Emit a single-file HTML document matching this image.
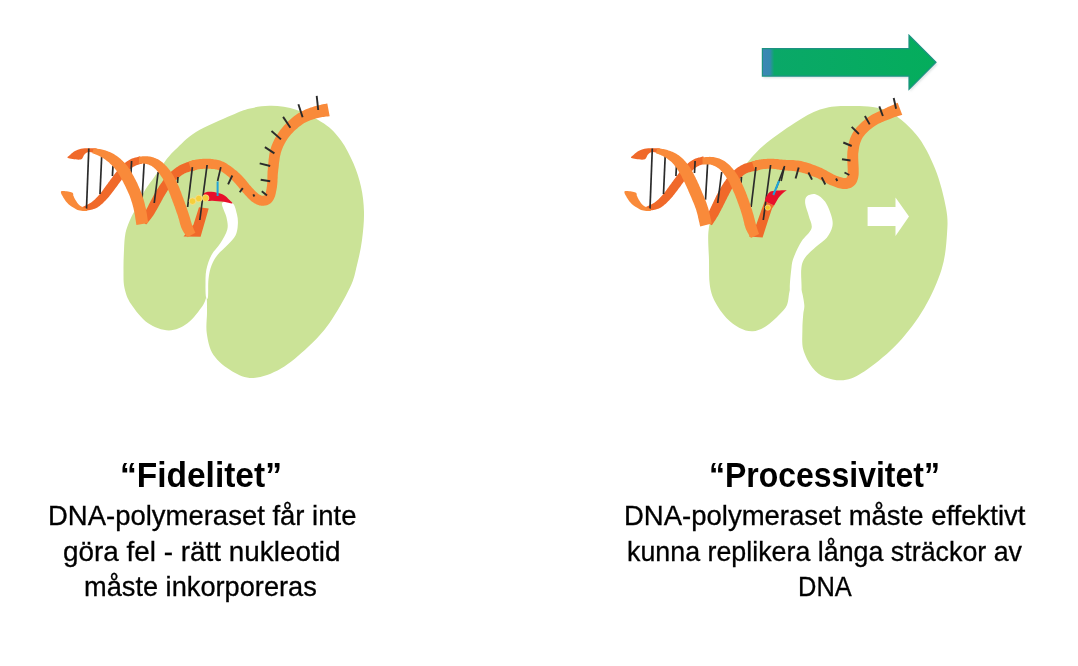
<!DOCTYPE html>
<html><head><meta charset="utf-8">
<style>
html,body{margin:0;padding:0;background:#fff;}
body{width:1078px;height:666px;position:relative;overflow:hidden;font-family:"Liberation Sans",sans-serif;color:#000;}
svg{position:absolute;left:0;top:0;}
.t{position:absolute;white-space:nowrap;line-height:60px;transform-origin:0 0;}
.b{font-weight:bold;font-size:35px;}
.n{font-size:27.4px;-webkit-text-stroke:0.3px #000;}
</style></head><body>
<svg width="1078" height="666" viewBox="0 0 1078 666">
<path fill="#cbe397" d="M271.5,105.8 C279.3,106.0 288.1,107.0 296.8,110.0 C305.6,113.0 316.6,118.5 324.0,123.6 C331.4,128.7 336.1,133.8 341.0,140.5 C345.9,147.2 350.2,155.9 353.5,163.6 C356.8,171.3 359.2,178.6 361.0,186.7 C362.8,194.8 363.8,203.1 364.0,212.0 C364.2,220.9 363.2,231.2 362.0,240.0 C360.8,248.8 359.0,257.1 357.0,265.0 C355.0,272.9 354.6,278.0 350.0,287.6 C345.4,297.2 336.7,312.8 329.7,322.7 C322.7,332.6 316.1,339.4 308.0,347.0 C299.9,354.6 290.0,363.4 281.0,368.6 C272.0,373.8 262.1,377.5 254.0,378.0 C245.9,378.5 239.2,375.2 232.4,371.4 C225.7,367.6 217.8,361.3 213.5,355.0 C209.2,348.7 207.9,340.7 206.8,333.5 C205.7,326.3 207.1,317.9 207.0,312.0 C206.9,306.1 207.2,299.0 206.5,298.0 C205.8,297.0 205.6,301.8 202.5,306.0 C199.4,310.2 193.4,318.9 187.8,323.0 C182.2,327.1 175.6,330.4 168.9,330.4 C162.2,330.4 154.1,327.4 147.8,323.0 C141.5,318.6 134.9,309.8 131.0,304.0 C127.1,298.2 125.8,293.7 124.5,288.0 C123.2,282.3 123.6,276.3 123.5,270.0 C123.4,263.7 123.7,256.2 124.0,250.0 C124.3,243.8 124.5,238.0 125.5,233.0 C126.5,228.0 128.3,224.0 130.0,220.0 C131.7,216.0 133.1,213.8 135.5,209.0 C137.9,204.2 141.2,196.5 144.5,191.0 C147.8,185.5 151.6,180.9 155.0,176.0 C158.4,171.1 161.6,165.9 165.0,161.5 C168.4,157.1 170.3,154.5 175.5,149.6 C180.7,144.7 186.7,137.7 196.0,132.0 C205.3,126.3 222.6,119.2 231.6,115.3 C240.6,111.4 243.3,110.1 250.0,108.5 C256.6,106.9 263.7,105.5 271.5,105.8 Z"/>
<path fill="#fff" d="M222.0,203.0 C223.0,200.6 230.0,201.1 232.5,203.0 C235.0,204.9 236.1,210.8 237.0,214.5 C237.9,218.2 238.1,221.5 237.8,225.0 C237.6,228.5 237.1,232.2 235.5,235.5 C233.9,238.8 231.0,241.2 228.0,244.5 C225.0,247.8 220.2,251.5 217.5,255.0 C214.8,258.5 213.0,261.6 211.5,265.6 C210.0,269.6 209.1,273.8 208.5,279.0 C207.9,284.2 208.4,294.0 208.0,297.0 C207.6,300.0 206.4,299.0 206.0,297.0 C205.6,295.0 205.4,289.5 205.5,285.0 C205.6,280.5 205.3,275.0 206.3,270.0 C207.3,265.0 209.1,259.5 211.5,255.0 C213.9,250.5 217.9,247.2 220.5,243.0 C223.1,238.8 226.3,233.8 227.3,229.5 C228.3,225.2 227.4,221.9 226.5,217.5 C225.6,213.1 221.0,205.4 222.0,203.0 Z"/>
<path fill="#cbe397" d="M846.0,105.9 C856.8,106.0 873.4,105.3 885.0,110.0 C896.6,114.7 907.3,124.2 915.7,134.0 C924.1,143.8 930.2,156.7 935.2,169.0 C940.2,181.3 944.0,197.2 946.0,208.0 C948.0,218.8 947.7,223.8 947.0,234.0 C946.3,244.2 945.5,256.7 941.7,269.0 C937.9,281.3 931.5,295.7 924.3,308.0 C917.1,320.3 907.7,332.6 898.3,342.8 C888.9,353.0 876.5,362.8 867.8,369.0 C859.1,375.2 853.0,378.4 846.0,379.8 C839.0,381.2 831.1,379.4 825.5,377.4 C819.9,375.3 816.0,372.2 812.3,367.5 C808.6,362.8 804.9,355.6 803.2,349.3 C801.6,343.0 802.4,335.3 802.4,329.5 C802.4,323.7 802.9,318.8 803.2,314.7 C803.5,310.6 804.6,309.1 804.3,305.0 C804.0,300.9 802.7,293.8 801.3,290.0 C799.9,286.2 797.9,282.0 796.0,282.0 C794.1,282.0 791.5,286.2 790.0,290.0 C788.5,293.8 788.8,300.9 787.0,305.0 C785.2,309.1 782.7,311.2 779.2,314.7 C775.7,318.2 770.4,323.4 766.0,326.2 C761.6,328.9 757.2,330.9 752.8,331.2 C748.4,331.5 744.0,330.1 739.6,327.9 C735.2,325.7 730.5,322.4 726.4,318.0 C722.3,313.6 717.7,307.0 714.9,301.5 C712.1,296.0 710.8,291.9 709.8,285.0 C708.8,278.1 709.2,268.8 709.0,260.0 C708.8,251.2 707.7,240.0 708.4,232.0 C709.1,224.0 710.9,217.5 713.0,212.0 C715.1,206.5 716.2,205.9 721.0,198.8 C725.8,191.7 735.0,178.2 742.0,169.4 C749.0,160.6 754.2,153.7 763.0,146.0 C771.8,138.3 785.1,129.1 794.6,123.0 C804.1,116.9 811.4,112.3 820.0,109.5 C828.6,106.7 835.2,105.8 846.0,105.9 Z"/>
<path fill="#fff" d="M807.0,196.2 C808.8,194.7 813.0,193.5 816.0,194.4 C819.0,195.3 822.4,198.0 825.0,201.6 C827.6,205.2 830.2,211.8 831.4,216.0 C832.6,220.2 833.1,223.2 832.3,226.8 C831.5,230.4 829.5,234.4 826.8,237.7 C824.1,241.0 819.6,243.4 816.0,246.7 C812.4,250.0 807.7,253.8 805.2,257.5 C802.8,261.2 801.9,263.2 801.3,269.0 C800.6,274.8 802.2,287.5 801.3,292.0 C800.4,296.5 797.9,296.0 796.0,296.0 C794.1,296.0 790.8,296.8 790.0,292.0 C789.2,287.2 790.8,273.6 791.5,267.5 C792.2,261.4 792.7,260.1 794.4,255.7 C796.1,251.3 798.8,245.8 801.6,241.3 C804.5,236.8 810.3,232.8 811.5,228.6 C812.7,224.4 809.8,220.2 808.8,216.0 C807.8,211.8 805.5,206.7 805.2,203.4 C804.9,200.1 805.2,197.7 807.0,196.2 Z"/>
<path fill="#fff" d="M867.6,207 L895.5,207 L895.5,197.6 L909,216.5 L895.5,236 L895.5,226 L867.6,226 Z"/>
<defs><linearGradient id="ga" x1="762" x2="936" y1="0" y2="0" gradientUnits="userSpaceOnUse">
<stop offset="0" stop-color="#3d86b4"/><stop offset="0.045" stop-color="#3589b0"/><stop offset="0.07" stop-color="#0aa868"/><stop offset="1" stop-color="#04ad5c"/></linearGradient>
<filter id="sh" x="-10%" y="-20%" width="130%" height="160%"><feGaussianBlur stdDeviation="1.2"/></filter></defs>
<path fill="#9aa" opacity="0.35" filter="url(#sh)" d="M763.4,50.6 L910,50.6 L910,37.3 L937.5,64.2 L910,91.4 L910,78.1 L763.4,78.1 Z"/>
<path fill="url(#ga)" stroke="#1d9282" stroke-width="1.2" d="M762.4,48.6 L909,48.6 L909,35.3 L936,62.2 L909,89.4 L909,76.1 L762.4,76.1 Z"/>
<path fill="#f0692a" d="M68.0,158.0 C66.3,157.2 69.3,155.7 70.5,154.5 C71.7,153.3 73.2,151.9 75.0,151.0 C76.8,150.1 78.7,149.3 81.0,148.8 C83.3,148.3 86.3,148.2 89.0,148.2 C91.7,148.2 95.7,147.9 97.0,148.8 C98.3,149.7 98.3,153.0 97.0,153.5 C95.7,154.0 91.1,151.8 89.0,152.0 C86.9,152.2 85.9,153.2 84.5,154.5 C83.1,155.8 83.2,158.9 80.5,159.5 C77.8,160.1 69.7,158.8 68.0,158.0 Z"/>
<path fill="#f0692a" d="M83.6,210.9 L84.2,210.8 L84.9,210.7 L85.7,210.6 L86.7,210.5 L87.7,210.3 L88.8,210.2 L90.0,210.0 L91.2,209.7 L92.4,209.5 L93.6,209.1 L94.8,208.7 L95.9,208.2 L96.9,207.7 L97.8,207.2 L98.7,206.6 L99.6,205.9 L100.4,205.3 L101.2,204.6 L102.0,203.9 L102.8,203.2 L103.5,202.5 L104.2,201.8 L104.9,201.1 L105.6,200.4 L106.4,199.6 L107.1,198.8 L107.8,198.0 L108.5,197.2 L109.2,196.4 L109.8,195.5 L110.5,194.7 L111.1,193.9 L111.8,193.1 L112.4,192.3 L113.0,191.5 L113.6,190.7 L114.2,189.9 L114.8,189.1 L115.4,188.3 L116.0,187.5 L116.6,186.7 L117.2,185.9 L117.8,185.1 L118.3,184.3 L118.9,183.5 L119.5,182.7 L120.0,182.0 L120.6,181.2 L121.2,180.4 L121.8,179.6 L122.3,178.8 L122.9,178.0 L123.4,177.2 L124.0,176.4 L124.5,175.7 L125.0,175.0 L125.5,174.3 L126.0,173.6 L126.5,173.0 L127.1,172.4 L127.6,171.8 L128.2,171.2 L128.8,170.7 L129.3,170.1 L129.9,169.6 L130.5,169.1 L131.1,168.6 L131.7,168.1 L132.2,167.6 L132.8,167.2 L133.4,166.8 L133.9,166.5 L134.5,166.2 L135.1,165.9 L135.8,165.6 L136.5,165.3 L137.3,165.1 L138.1,164.8 L138.8,164.6 L139.6,164.3 L140.3,164.1 L141.0,163.9 L141.6,163.7 L142.1,163.6 L139.9,156.4 L139.5,156.5 L139.0,156.6 L138.4,156.8 L137.7,157.0 L136.8,157.2 L135.9,157.4 L135.0,157.6 L134.0,157.9 L133.0,158.2 L132.0,158.6 L131.0,159.0 L130.1,159.5 L129.2,160.0 L128.4,160.5 L127.6,161.0 L126.8,161.5 L126.0,162.1 L125.2,162.7 L124.5,163.3 L123.8,163.9 L123.0,164.6 L122.3,165.2 L121.6,165.9 L120.9,166.6 L120.2,167.3 L119.5,168.1 L118.8,168.8 L118.2,169.6 L117.5,170.4 L116.9,171.2 L116.3,172.0 L115.7,172.8 L115.1,173.5 L114.5,174.3 L114.0,175.1 L113.4,175.8 L112.8,176.6 L112.2,177.4 L111.6,178.2 L111.0,179.0 L110.4,179.8 L109.9,180.6 L109.3,181.4 L108.7,182.1 L108.1,182.9 L107.6,183.7 L107.0,184.5 L106.4,185.3 L105.8,186.1 L105.2,186.9 L104.6,187.8 L104.0,188.6 L103.4,189.4 L102.8,190.2 L102.3,191.0 L101.7,191.8 L101.1,192.5 L100.5,193.2 L100.0,193.9 L99.4,194.6 L98.8,195.3 L98.1,196.0 L97.5,196.7 L96.9,197.3 L96.3,198.0 L95.7,198.6 L95.1,199.2 L94.5,199.7 L93.9,200.3 L93.3,200.8 L92.7,201.3 L92.1,201.8 L91.5,202.2 L90.8,202.7 L89.9,203.2 L89.0,203.7 L88.1,204.3 L87.1,204.8 L86.1,205.2 L85.2,205.7 L84.4,206.1 L83.6,206.5 L82.9,206.8 L82.4,207.1Z"/>
<path fill="#f0692a" d="M146.2,224.4 L146.5,224.0 L147.0,223.5 L147.5,222.9 L148.0,222.2 L148.6,221.4 L149.3,220.7 L150.0,219.8 L150.7,218.9 L151.4,218.1 L152.0,217.2 L152.7,216.3 L153.3,215.4 L153.9,214.5 L154.4,213.7 L154.9,212.8 L155.4,212.0 L155.9,211.1 L156.4,210.2 L156.9,209.4 L157.4,208.6 L157.8,207.7 L158.3,206.9 L158.7,206.1 L159.2,205.3 L159.6,204.4 L160.1,203.6 L160.6,202.7 L161.0,201.9 L161.5,201.0 L161.9,200.2 L162.4,199.4 L162.8,198.6 L163.2,197.8 L163.7,197.0 L164.1,196.2 L164.6,195.4 L165.0,194.7 L165.5,193.9 L166.0,193.2 L166.4,192.4 L166.9,191.7 L167.3,191.0 L167.8,190.3 L168.3,189.6 L168.8,188.9 L169.2,188.3 L169.7,187.6 L170.3,186.9 L170.8,186.2 L171.4,185.5 L171.9,184.8 L172.5,184.1 L173.1,183.4 L173.7,182.7 L174.2,182.0 L174.8,181.4 L175.4,180.8 L176.0,180.2 L176.6,179.6 L177.2,179.0 L177.8,178.4 L178.5,177.9 L179.1,177.3 L179.8,176.8 L180.4,176.3 L181.0,175.8 L181.7,175.3 L182.3,174.8 L183.0,174.4 L183.7,174.0 L184.4,173.6 L185.1,173.3 L185.8,172.9 L186.7,172.6 L187.7,172.2 L188.8,171.9 L189.9,171.6 L191.0,171.3 L192.1,171.0 L193.1,170.7 L194.1,170.4 L195.0,170.2 L195.9,170.0 L196.5,169.8 L193.5,160.2 L193.0,160.4 L192.3,160.6 L191.4,160.9 L190.4,161.2 L189.3,161.6 L188.2,161.9 L186.9,162.3 L185.7,162.8 L184.5,163.2 L183.2,163.7 L182.0,164.2 L180.9,164.7 L179.9,165.3 L178.9,165.8 L178.0,166.4 L177.1,167.0 L176.2,167.6 L175.4,168.2 L174.6,168.8 L173.8,169.4 L173.0,170.0 L172.3,170.7 L171.5,171.3 L170.8,172.0 L170.0,172.7 L169.3,173.4 L168.6,174.2 L167.8,174.9 L167.1,175.7 L166.5,176.5 L165.8,177.3 L165.2,178.0 L164.5,178.8 L163.9,179.6 L163.3,180.3 L162.7,181.1 L162.1,181.9 L161.6,182.7 L161.0,183.4 L160.5,184.2 L159.9,185.0 L159.4,185.8 L158.9,186.6 L158.4,187.4 L157.9,188.2 L157.4,188.9 L156.9,189.7 L156.4,190.6 L155.9,191.4 L155.4,192.2 L154.9,193.1 L154.5,194.0 L154.0,194.8 L153.5,195.7 L153.1,196.5 L152.6,197.4 L152.2,198.2 L151.7,199.1 L151.3,199.9 L150.8,200.7 L150.4,201.6 L149.9,202.5 L149.5,203.3 L149.0,204.2 L148.6,205.0 L148.2,205.9 L147.8,206.7 L147.4,207.5 L147.0,208.3 L146.5,209.1 L146.1,209.9 L145.7,210.6 L145.2,211.3 L144.8,212.2 L144.2,213.0 L143.7,213.9 L143.1,214.7 L142.5,215.6 L141.9,216.4 L141.4,217.2 L140.9,217.9 L140.5,218.6 L140.1,219.2 L139.8,219.6Z"/>
<path fill="#f98a3a" d="M191.5,171.3 L191.9,171.2 L192.3,171.0 L192.8,170.8 L193.3,170.7 L193.8,170.5 L194.4,170.3 L194.9,170.1 L195.5,170.0 L196.1,169.8 L196.6,169.7 L197.2,169.5 L197.8,169.4 L198.5,169.3 L199.3,169.2 L200.1,169.1 L200.9,169.0 L201.8,168.9 L202.6,168.9 L203.5,168.8 L204.4,168.7 L205.3,168.7 L206.1,168.7 L207.0,168.7 L207.8,168.7 L208.7,168.7 L209.6,168.8 L210.5,168.8 L211.5,168.9 L212.4,168.9 L213.3,169.0 L214.2,169.1 L215.1,169.3 L215.9,169.4 L216.7,169.6 L217.4,169.8 L218.1,170.0 L218.8,170.2 L219.5,170.5 L220.1,170.8 L220.7,171.1 L221.4,171.5 L222.0,171.8 L222.6,172.3 L223.3,172.7 L224.0,173.2 L224.7,173.7 L225.4,174.2 L226.1,174.8 L226.9,175.4 L227.6,176.0 L228.3,176.6 L229.1,177.2 L229.8,177.9 L230.5,178.6 L231.3,179.3 L232.0,180.0 L232.8,180.8 L233.5,181.5 L234.2,182.2 L234.9,183.0 L235.6,183.7 L236.2,184.4 L236.9,185.2 L237.5,186.0 L238.2,186.8 L238.9,187.7 L239.6,188.5 L240.3,189.4 L241.0,190.3 L241.8,191.1 L242.5,192.0 L243.3,192.9 L244.0,193.6 L244.7,194.4 L245.4,195.2 L246.2,196.0 L246.9,196.8 L247.7,197.7 L248.5,198.5 L249.3,199.2 L250.1,200.0 L250.9,200.7 L251.7,201.4 L252.6,202.1 L253.4,202.6 L254.2,203.2 L255.1,203.6 L255.9,204.1 L256.8,204.5 L257.6,204.8 L258.5,205.1 L259.4,205.4 L260.3,205.6 L261.3,205.7 L262.2,205.8 L263.1,205.8 L264.0,205.7 L264.9,205.6 L265.8,205.5 L266.7,205.2 L267.6,204.9 L268.5,204.5 L269.4,204.0 L270.3,203.4 L271.1,202.7 L271.9,201.9 L272.6,201.1 L273.3,200.1 L273.8,199.1 L274.3,198.0 L274.7,197.0 L275.1,195.9 L275.4,194.8 L275.7,193.7 L275.9,192.6 L276.1,191.4 L276.4,190.3 L276.6,189.1 L276.8,187.9 L277.0,186.7 L277.1,185.4 L277.3,184.0 L277.4,182.7 L277.5,181.4 L277.5,180.0 L277.6,178.7 L277.7,177.4 L277.7,176.0 L277.8,174.7 L277.9,173.3 L278.1,171.9 L278.2,170.5 L278.4,169.0 L278.6,167.4 L278.8,165.7 L278.9,164.0 L279.1,162.4 L279.4,160.7 L279.6,159.1 L279.8,157.5 L280.1,155.9 L280.5,154.4 L280.8,153.0 L281.2,151.7 L281.7,150.3 L282.2,149.0 L282.8,147.6 L283.3,146.3 L284.0,145.0 L284.6,143.7 L285.3,142.4 L286.0,141.2 L286.8,139.9 L287.6,138.7 L288.5,137.5 L289.3,136.4 L290.3,135.2 L291.3,134.1 L292.4,132.9 L293.5,131.7 L294.7,130.6 L295.9,129.5 L297.2,128.4 L298.4,127.3 L299.7,126.3 L300.9,125.4 L302.1,124.5 L303.2,123.8 L304.3,123.1 L305.4,122.5 L306.4,121.9 L307.5,121.4 L308.6,120.9 L309.8,120.5 L310.9,120.1 L312.1,119.7 L313.2,119.3 L314.4,118.9 L315.6,118.6 L316.8,118.2 L317.9,117.9 L319.0,117.7 L320.1,117.5 L321.3,117.3 L322.5,117.1 L323.7,116.9 L324.9,116.8 L326.0,116.6 L327.1,116.5 L328.1,116.4 L329.0,116.3 L329.7,116.2 L327.3,103.4 L326.8,103.5 L326.0,103.7 L325.1,103.9 L324.1,104.1 L322.9,104.3 L321.6,104.6 L320.3,104.9 L318.9,105.2 L317.5,105.5 L316.0,105.9 L314.6,106.3 L313.2,106.8 L312.0,107.2 L310.7,107.6 L309.5,108.1 L308.2,108.5 L306.8,109.0 L305.4,109.6 L304.0,110.2 L302.6,110.9 L301.1,111.6 L299.7,112.4 L298.2,113.3 L296.8,114.2 L295.4,115.3 L294.0,116.3 L292.5,117.5 L291.1,118.7 L289.7,119.9 L288.3,121.2 L286.9,122.6 L285.6,123.9 L284.3,125.3 L283.0,126.7 L281.8,128.2 L280.7,129.6 L279.6,131.1 L278.6,132.5 L277.6,134.0 L276.6,135.5 L275.7,137.0 L274.9,138.6 L274.1,140.1 L273.3,141.7 L272.6,143.3 L271.9,145.0 L271.3,146.6 L270.8,148.3 L270.2,150.1 L269.8,152.0 L269.4,153.9 L269.1,155.7 L268.9,157.6 L268.6,159.4 L268.5,161.2 L268.3,163.0 L268.2,164.7 L268.0,166.4 L267.9,167.9 L267.8,169.5 L267.6,171.0 L267.5,172.6 L267.5,174.1 L267.4,175.6 L267.4,177.0 L267.4,178.4 L267.4,179.7 L267.3,180.9 L267.3,182.1 L267.2,183.2 L267.2,184.3 L267.0,185.3 L266.9,186.4 L266.7,187.5 L266.6,188.5 L266.4,189.5 L266.2,190.5 L266.0,191.4 L265.8,192.2 L265.5,193.0 L265.3,193.6 L265.1,194.2 L264.9,194.6 L264.7,194.9 L264.6,195.1 L264.5,195.3 L264.4,195.4 L264.3,195.4 L264.2,195.5 L264.1,195.6 L263.9,195.6 L263.8,195.7 L263.6,195.7 L263.4,195.8 L263.1,195.8 L262.9,195.8 L262.6,195.8 L262.4,195.8 L262.2,195.7 L261.9,195.7 L261.5,195.6 L261.2,195.5 L260.8,195.3 L260.3,195.1 L259.9,194.9 L259.4,194.6 L258.9,194.3 L258.4,193.9 L257.9,193.6 L257.4,193.1 L256.8,192.6 L256.2,192.1 L255.6,191.4 L254.9,190.7 L254.2,190.0 L253.6,189.3 L252.8,188.5 L252.1,187.7 L251.4,186.9 L250.7,186.1 L250.0,185.4 L249.4,184.7 L248.8,183.9 L248.1,183.1 L247.4,182.2 L246.7,181.3 L246.0,180.5 L245.3,179.6 L244.5,178.7 L243.7,177.8 L242.9,176.9 L242.1,176.0 L241.3,175.2 L240.5,174.4 L239.6,173.6 L238.8,172.9 L237.9,172.1 L237.1,171.3 L236.2,170.6 L235.3,169.9 L234.4,169.2 L233.6,168.5 L232.7,167.8 L231.9,167.2 L231.0,166.6 L230.3,166.0 L229.5,165.5 L228.6,164.9 L227.8,164.4 L227.0,163.8 L226.1,163.3 L225.2,162.8 L224.3,162.3 L223.3,161.8 L222.3,161.4 L221.3,161.0 L220.2,160.6 L219.1,160.3 L218.0,160.0 L216.9,159.8 L215.7,159.6 L214.6,159.4 L213.5,159.2 L212.4,159.1 L211.3,158.9 L210.3,158.8 L209.2,158.8 L208.2,158.7 L207.1,158.7 L206.0,158.7 L205.0,158.7 L203.9,158.7 L202.8,158.8 L201.8,158.9 L200.8,159.0 L199.8,159.1 L198.8,159.2 L197.9,159.3 L197.1,159.4 L196.2,159.6 L195.3,159.7 L194.4,159.9 L193.6,160.1 L192.7,160.3 L192.0,160.6 L191.3,160.8 L190.6,161.0 L190.0,161.2 L189.5,161.4 L189.1,161.5 L188.8,161.6 L188.5,161.7Z"/>
<path fill="#f0692a" d="M183.5,236.5 L193.5,224.6 L199.0,207.3 L208.7,208.4 L200.6,236.8 Z"/>
<line x1="88.8" y1="148.5" x2="86.5" y2="208.6" stroke="#2b2b2b" stroke-width="1.7"/>
<line x1="101.7" y1="155.8" x2="100.0" y2="194.0" stroke="#2b2b2b" stroke-width="1.7"/>
<line x1="113.0" y1="165.9" x2="112.4" y2="176.0" stroke="#2b2b2b" stroke-width="1.7"/>
<line x1="131.6" y1="161.0" x2="131.0" y2="173.0" stroke="#2b2b2b" stroke-width="1.7"/>
<line x1="144.3" y1="160.5" x2="142.0" y2="199.6" stroke="#2b2b2b" stroke-width="1.7"/>
<line x1="158.2" y1="172.0" x2="154.2" y2="203.0" stroke="#2b2b2b" stroke-width="1.7"/>
<line x1="178.0" y1="177.0" x2="177.5" y2="183.0" stroke="#2b2b2b" stroke-width="1.7"/>
<line x1="192.4" y1="167.1" x2="187.6" y2="207.0" stroke="#2b2b2b" stroke-width="1.7"/>
<line x1="207.1" y1="165.0" x2="199.8" y2="220.0" stroke="#2b2b2b" stroke-width="1.7"/>
<line x1="220.8" y1="167.1" x2="217.6" y2="181.0" stroke="#2b2b2b" stroke-width="1.7"/>
<path fill="#f98a3a" d="M61.2,191.3 C62.5,190.3 69.9,191.6 71.9,192.4 C74.0,193.2 72.9,194.8 73.5,196.0 C74.1,197.2 74.2,198.1 75.3,199.7 C76.3,201.3 78.0,203.9 79.8,205.4 C81.6,206.9 84.8,207.6 86.0,208.5 C87.2,209.4 88.0,210.7 87.0,211.0 C86.0,211.3 82.0,210.9 80.0,210.5 C78.0,210.1 77.2,209.8 75.3,208.7 C73.4,207.6 70.4,205.9 68.5,204.2 C66.6,202.5 65.2,200.8 64.0,198.6 C62.8,196.4 59.9,192.3 61.2,191.3 Z"/>
<path fill="#f98a3a" d="M138.9,163.5 L139.5,163.5 L140.1,163.6 L140.9,163.6 L141.7,163.6 L142.5,163.6 L143.4,163.7 L144.3,163.7 L145.2,163.8 L146.0,163.9 L146.8,164.0 L147.4,164.2 L148.0,164.4 L148.6,164.6 L149.3,164.9 L149.9,165.2 L150.5,165.5 L151.1,165.8 L151.7,166.1 L152.3,166.5 L152.8,166.9 L153.4,167.3 L153.9,167.8 L154.5,168.2 L155.0,168.7 L155.6,169.2 L156.1,169.8 L156.7,170.4 L157.2,171.0 L157.8,171.7 L158.4,172.4 L158.9,173.1 L159.5,173.8 L160.1,174.6 L160.6,175.4 L161.1,176.2 L161.7,177.0 L162.2,177.8 L162.7,178.6 L163.2,179.5 L163.7,180.4 L164.1,181.3 L164.6,182.2 L165.1,183.2 L165.6,184.2 L166.1,185.2 L166.6,186.2 L167.0,187.3 L167.5,188.3 L168.0,189.3 L168.4,190.4 L168.9,191.5 L169.3,192.6 L169.7,193.7 L170.2,194.8 L170.6,196.0 L171.1,197.2 L171.5,198.4 L172.0,199.6 L172.4,200.7 L172.8,201.9 L173.3,203.1 L173.7,204.3 L174.1,205.4 L174.6,206.6 L175.0,207.8 L175.4,208.9 L175.8,210.1 L176.2,211.2 L176.6,212.4 L177.0,213.5 L177.4,214.6 L177.8,215.7 L178.1,216.8 L178.4,217.9 L178.8,219.0 L179.1,220.1 L179.4,221.2 L179.7,222.4 L180.0,223.5 L180.3,224.7 L180.7,225.8 L181.0,226.9 L181.5,228.0 L181.9,229.1 L182.4,230.1 L182.9,231.1 L183.5,232.0 L184.1,232.9 L184.7,233.7 L185.2,234.4 L185.8,235.1 L186.3,235.7 L186.7,236.2 L187.1,236.7 L187.4,237.0 L187.6,237.3 L195.4,232.7 L195.2,232.3 L194.9,231.7 L194.6,231.1 L194.4,230.5 L194.1,229.9 L193.8,229.2 L193.5,228.5 L193.2,227.8 L192.9,227.1 L192.6,226.3 L192.3,225.6 L192.1,224.9 L191.8,224.2 L191.6,223.4 L191.3,222.5 L191.0,221.5 L190.7,220.4 L190.4,219.4 L190.1,218.2 L189.7,217.1 L189.4,215.9 L189.0,214.7 L188.6,213.5 L188.2,212.3 L187.8,211.1 L187.4,209.9 L187.0,208.8 L186.6,207.6 L186.2,206.4 L185.8,205.2 L185.3,204.0 L184.9,202.8 L184.5,201.6 L184.0,200.4 L183.6,199.2 L183.2,198.1 L182.7,196.9 L182.3,195.7 L181.8,194.5 L181.4,193.3 L181.0,192.1 L180.5,190.9 L180.0,189.7 L179.6,188.5 L179.1,187.3 L178.6,186.1 L178.0,184.9 L177.5,183.7 L177.0,182.6 L176.4,181.5 L175.9,180.4 L175.3,179.3 L174.8,178.2 L174.2,177.2 L173.6,176.1 L173.0,175.0 L172.3,174.0 L171.7,173.0 L171.0,172.0 L170.3,171.0 L169.6,170.1 L168.9,169.2 L168.2,168.3 L167.5,167.4 L166.7,166.5 L165.9,165.7 L165.1,164.9 L164.3,164.1 L163.5,163.4 L162.7,162.6 L161.8,161.9 L161.0,161.3 L160.1,160.7 L159.2,160.1 L158.3,159.6 L157.4,159.1 L156.5,158.7 L155.6,158.3 L154.6,157.9 L153.7,157.6 L152.8,157.3 L151.9,157.1 L150.9,156.8 L150.0,156.6 L148.9,156.4 L147.8,156.3 L146.7,156.2 L145.6,156.2 L144.5,156.2 L143.5,156.3 L142.5,156.3 L141.6,156.4 L140.8,156.4 L140.1,156.5 L139.5,156.5 L139.1,156.5Z"/>
<path fill="#f98a3a" d="M92.4,153.2 L92.8,153.4 L93.4,153.6 L94.1,153.9 L94.8,154.1 L95.6,154.4 L96.4,154.7 L97.2,155.1 L98.0,155.4 L98.8,155.8 L99.6,156.2 L100.4,156.6 L101.1,157.0 L101.8,157.4 L102.5,157.8 L103.3,158.3 L104.0,158.8 L104.8,159.3 L105.5,159.8 L106.3,160.4 L107.0,160.9 L107.7,161.5 L108.4,162.0 L109.1,162.6 L109.7,163.2 L110.4,163.9 L111.1,164.6 L111.8,165.3 L112.5,166.0 L113.2,166.8 L113.9,167.5 L114.5,168.3 L115.2,169.1 L115.9,170.0 L116.5,170.8 L117.1,171.6 L117.7,172.5 L118.3,173.3 L118.8,174.2 L119.4,175.1 L119.9,176.0 L120.5,177.0 L121.0,178.0 L121.6,179.0 L122.1,180.0 L122.6,181.1 L123.2,182.1 L123.7,183.2 L124.3,184.2 L124.8,185.3 L125.3,186.3 L125.8,187.3 L126.3,188.4 L126.8,189.4 L127.3,190.4 L127.7,191.4 L128.2,192.5 L128.6,193.5 L129.1,194.5 L129.5,195.6 L129.9,196.6 L130.3,197.7 L130.7,198.7 L131.0,199.8 L131.4,200.9 L131.7,202.0 L132.1,203.1 L132.4,204.2 L132.7,205.3 L133.0,206.4 L133.3,207.5 L133.6,208.7 L133.8,209.8 L134.1,211.0 L134.4,212.3 L134.6,213.7 L134.9,215.1 L135.1,216.6 L135.3,218.0 L135.5,219.5 L135.8,220.8 L135.9,222.1 L136.1,223.2 L136.3,224.2 L136.4,224.9 L148.2,223.1 L148.1,222.3 L148.0,221.4 L147.8,220.3 L147.6,219.0 L147.4,217.7 L147.2,216.2 L147.0,214.7 L146.7,213.1 L146.4,211.6 L146.1,210.1 L145.9,208.6 L145.6,207.2 L145.2,205.9 L144.9,204.6 L144.6,203.3 L144.3,202.1 L143.9,200.8 L143.6,199.6 L143.2,198.4 L142.8,197.2 L142.4,196.0 L142.0,194.8 L141.6,193.6 L141.1,192.4 L140.7,191.2 L140.2,190.0 L139.7,188.8 L139.2,187.7 L138.7,186.5 L138.2,185.4 L137.7,184.3 L137.2,183.1 L136.6,182.0 L136.1,180.9 L135.5,179.8 L134.9,178.8 L134.4,177.7 L133.8,176.6 L133.2,175.5 L132.6,174.4 L132.0,173.3 L131.3,172.1 L130.7,171.0 L130.0,169.9 L129.3,168.8 L128.5,167.7 L127.7,166.6 L126.9,165.5 L126.1,164.5 L125.2,163.6 L124.3,162.6 L123.4,161.7 L122.5,160.8 L121.6,159.9 L120.7,159.1 L119.7,158.3 L118.8,157.5 L117.8,156.7 L116.9,156.0 L115.9,155.4 L114.9,154.7 L113.8,154.1 L112.8,153.5 L111.8,153.0 L110.8,152.5 L109.8,152.1 L108.7,151.7 L107.8,151.3 L106.8,151.0 L105.8,150.6 L104.9,150.3 L103.9,150.0 L102.9,149.8 L101.9,149.5 L100.9,149.3 L99.8,149.1 L98.8,149.0 L97.8,148.8 L96.9,148.7 L96.1,148.6 L95.3,148.6 L94.6,148.5 L94.1,148.4 L93.6,148.4Z"/>
<line x1="316.7" y1="95.9" x2="318.2" y2="110.0" stroke="#2b2b2b" stroke-width="1.9"/>
<line x1="298.4" y1="104.3" x2="302.6" y2="117.3" stroke="#2b2b2b" stroke-width="1.9"/>
<line x1="283.1" y1="116.9" x2="290.4" y2="127.8" stroke="#2b2b2b" stroke-width="1.9"/>
<line x1="271.5" y1="131.0" x2="281.0" y2="139.4" stroke="#2b2b2b" stroke-width="1.9"/>
<line x1="264.9" y1="147.1" x2="274.4" y2="153.4" stroke="#2b2b2b" stroke-width="1.9"/>
<line x1="259.7" y1="163.4" x2="270.2" y2="166.0" stroke="#2b2b2b" stroke-width="1.9"/>
<line x1="260.7" y1="179.7" x2="270.2" y2="181.3" stroke="#2b2b2b" stroke-width="1.9"/>
<line x1="261.8" y1="191.3" x2="267.0" y2="195.5" stroke="#2b2b2b" stroke-width="1.9"/>
<line x1="253.3" y1="194.4" x2="254.4" y2="196.5" stroke="#2b2b2b" stroke-width="1.9"/>
<line x1="239.7" y1="192.3" x2="242.8" y2="188.1" stroke="#2b2b2b" stroke-width="1.9"/>
<line x1="228.1" y1="184.4" x2="232.3" y2="175.5" stroke="#2b2b2b" stroke-width="1.9"/>
<path fill="#e8102a" d="M203.9,193.4 C204.8,192.0 208.1,191.6 211.3,191.8 C214.5,192.0 219.9,193.1 222.9,194.4 C225.9,195.7 227.6,198.2 229.2,199.7 C230.8,201.2 233.2,203.1 232.3,203.4 C231.4,203.8 227.2,202.2 223.9,201.8 C220.6,201.4 215.3,200.9 212.3,200.7 C209.3,200.5 207.4,201.7 206.0,200.5 C204.6,199.3 203.0,194.8 203.9,193.4 Z"/>
<line x1="217.6" y1="181.5" x2="217.6" y2="196" stroke="#1fa3d8" stroke-width="2"/>
<circle cx="192.5" cy="201.2" r="3.3" fill="#f5cf3a" stroke="#f9e08a" stroke-width="0.8"/>
<circle cx="198.8" cy="198.5" r="3.3" fill="#f5cf3a" stroke="#f9e08a" stroke-width="0.8"/>
<circle cx="205.6" cy="198.0" r="3.3" fill="#f5cf3a" stroke="#f9e08a" stroke-width="0.8"/>
<path fill="#f0692a" d="M631.5,158.0 C629.8,157.2 632.8,155.7 634.0,154.5 C635.2,153.3 636.8,151.9 638.5,151.0 C640.2,150.1 642.2,149.3 644.5,148.8 C646.8,148.3 649.8,148.2 652.5,148.2 C655.2,148.2 659.2,147.9 660.5,148.8 C661.8,149.7 661.8,153.0 660.5,153.5 C659.2,154.0 654.6,151.8 652.5,152.0 C650.4,152.2 649.4,153.2 648.0,154.5 C646.6,155.8 646.8,158.9 644.0,159.5 C641.2,160.1 633.2,158.8 631.5,158.0 Z"/>
<path fill="#f0692a" d="M647.1,210.9 L647.7,210.8 L648.4,210.7 L649.2,210.6 L650.2,210.5 L651.2,210.3 L652.3,210.2 L653.5,210.0 L654.7,209.7 L655.9,209.5 L657.1,209.1 L658.3,208.7 L659.4,208.2 L660.4,207.7 L661.3,207.2 L662.2,206.6 L663.1,205.9 L663.9,205.3 L664.7,204.6 L665.5,203.9 L666.3,203.2 L667.0,202.5 L667.7,201.8 L668.4,201.1 L669.1,200.4 L669.9,199.6 L670.6,198.8 L671.3,198.0 L672.0,197.2 L672.7,196.4 L673.3,195.5 L674.0,194.7 L674.6,193.9 L675.3,193.1 L675.9,192.3 L676.5,191.5 L677.1,190.7 L677.7,189.9 L678.3,189.1 L678.9,188.3 L679.5,187.5 L680.1,186.7 L680.7,185.9 L681.3,185.1 L681.8,184.3 L682.4,183.5 L683.0,182.7 L683.5,182.0 L684.1,181.2 L684.7,180.4 L685.3,179.6 L685.8,178.8 L686.4,178.0 L686.9,177.2 L687.5,176.4 L688.0,175.7 L688.5,175.0 L689.0,174.3 L689.5,173.6 L690.0,173.0 L690.6,172.4 L691.1,171.8 L691.7,171.2 L692.3,170.7 L692.8,170.1 L693.4,169.6 L694.0,169.1 L694.6,168.6 L695.2,168.1 L695.7,167.6 L696.3,167.2 L696.9,166.8 L697.4,166.5 L698.0,166.2 L698.6,165.9 L699.3,165.6 L700.0,165.3 L700.8,165.1 L701.6,164.8 L702.3,164.6 L703.1,164.3 L703.8,164.1 L704.5,163.9 L705.1,163.7 L705.6,163.6 L703.4,156.4 L703.0,156.5 L702.5,156.6 L701.9,156.8 L701.2,157.0 L700.3,157.2 L699.4,157.4 L698.5,157.6 L697.5,157.9 L696.5,158.2 L695.5,158.6 L694.5,159.0 L693.6,159.5 L692.7,160.0 L691.9,160.5 L691.1,161.0 L690.3,161.5 L689.5,162.1 L688.7,162.7 L688.0,163.3 L687.3,163.9 L686.5,164.6 L685.8,165.2 L685.1,165.9 L684.4,166.6 L683.7,167.3 L683.0,168.1 L682.3,168.8 L681.7,169.6 L681.0,170.4 L680.4,171.2 L679.8,172.0 L679.2,172.8 L678.6,173.5 L678.0,174.3 L677.5,175.1 L676.9,175.8 L676.3,176.6 L675.7,177.4 L675.1,178.2 L674.5,179.0 L673.9,179.8 L673.4,180.6 L672.8,181.4 L672.2,182.1 L671.6,182.9 L671.1,183.7 L670.5,184.5 L669.9,185.3 L669.3,186.1 L668.7,186.9 L668.1,187.8 L667.5,188.6 L666.9,189.4 L666.3,190.2 L665.8,191.0 L665.2,191.8 L664.6,192.5 L664.0,193.2 L663.5,193.9 L662.9,194.6 L662.3,195.3 L661.6,196.0 L661.0,196.7 L660.4,197.3 L659.8,198.0 L659.2,198.6 L658.6,199.2 L658.0,199.7 L657.4,200.3 L656.8,200.8 L656.2,201.3 L655.6,201.8 L655.0,202.2 L654.3,202.7 L653.4,203.2 L652.5,203.7 L651.6,204.3 L650.6,204.8 L649.6,205.2 L648.7,205.7 L647.9,206.1 L647.1,206.5 L646.4,206.8 L645.9,207.1Z"/>
<path fill="#f0692a" d="M711.9,225.3 L712.2,224.8 L712.5,224.3 L713.0,223.6 L713.4,222.9 L714.0,222.1 L714.5,221.3 L715.1,220.4 L715.7,219.5 L716.3,218.6 L716.8,217.6 L717.4,216.7 L717.9,215.9 L718.4,215.0 L718.9,214.2 L719.3,213.3 L719.8,212.5 L720.2,211.6 L720.7,210.8 L721.1,210.0 L721.5,209.1 L721.9,208.3 L722.4,207.5 L722.8,206.7 L723.2,205.8 L723.6,205.0 L724.1,204.1 L724.5,203.3 L724.9,202.5 L725.3,201.6 L725.7,200.8 L726.1,200.0 L726.5,199.2 L726.9,198.4 L727.3,197.6 L727.7,196.8 L728.1,196.0 L728.6,195.2 L729.0,194.3 L729.4,193.5 L729.8,192.7 L730.2,191.9 L730.6,191.2 L731.0,190.4 L731.4,189.7 L731.8,188.9 L732.2,188.2 L732.7,187.5 L733.1,186.8 L733.6,186.1 L734.1,185.4 L734.6,184.7 L735.1,184.0 L735.7,183.4 L736.2,182.7 L736.7,182.1 L737.3,181.4 L737.8,180.8 L738.4,180.2 L738.9,179.7 L739.5,179.1 L740.1,178.5 L740.7,177.9 L741.3,177.3 L741.8,176.7 L742.4,176.2 L742.9,175.7 L743.4,175.3 L744.0,174.8 L744.5,174.4 L745.1,174.0 L745.8,173.7 L746.5,173.3 L747.3,173.0 L748.2,172.6 L749.4,172.3 L750.6,172.0 L751.9,171.6 L753.2,171.3 L754.6,171.0 L755.8,170.7 L757.0,170.5 L758.1,170.2 L759.0,170.0 L759.8,169.8 L757.2,160.2 L756.6,160.4 L755.7,160.6 L754.7,160.9 L753.5,161.2 L752.2,161.5 L750.8,161.9 L749.4,162.3 L748.0,162.7 L746.5,163.2 L745.1,163.6 L743.8,164.1 L742.5,164.7 L741.4,165.2 L740.4,165.8 L739.4,166.4 L738.4,167.0 L737.6,167.6 L736.7,168.2 L736.0,168.8 L735.2,169.5 L734.5,170.1 L733.8,170.7 L733.2,171.3 L732.5,171.9 L731.8,172.6 L731.1,173.4 L730.4,174.1 L729.7,174.9 L729.1,175.6 L728.4,176.4 L727.8,177.2 L727.2,178.0 L726.6,178.8 L726.0,179.6 L725.5,180.4 L724.9,181.2 L724.3,182.0 L723.7,182.8 L723.2,183.7 L722.7,184.5 L722.2,185.3 L721.7,186.1 L721.2,187.0 L720.7,187.8 L720.2,188.6 L719.8,189.4 L719.3,190.2 L718.9,191.0 L718.4,191.9 L718.0,192.7 L717.5,193.6 L717.1,194.4 L716.6,195.3 L716.2,196.1 L715.8,197.0 L715.4,197.8 L715.0,198.7 L714.6,199.5 L714.2,200.3 L713.8,201.2 L713.4,202.0 L713.0,202.9 L712.6,203.7 L712.2,204.6 L711.8,205.4 L711.4,206.3 L711.0,207.1 L710.6,207.9 L710.2,208.7 L709.9,209.5 L709.5,210.3 L709.1,211.1 L708.7,211.9 L708.3,212.8 L707.8,213.7 L707.3,214.6 L706.8,215.6 L706.4,216.5 L705.9,217.4 L705.5,218.2 L705.0,219.0 L704.7,219.7 L704.4,220.2 L704.1,220.7Z"/>
<path fill="#f98a3a" d="M755.0,171.3 L755.4,171.2 L755.8,171.0 L756.3,170.8 L756.8,170.7 L757.3,170.5 L757.9,170.3 L758.4,170.1 L759.0,170.0 L759.6,169.8 L760.1,169.7 L760.7,169.5 L761.3,169.4 L762.0,169.3 L762.7,169.2 L763.5,169.1 L764.4,169.0 L765.2,168.9 L766.1,168.9 L767.0,168.8 L767.9,168.7 L768.8,168.7 L769.7,168.7 L770.5,168.7 L771.4,168.7 L772.2,168.7 L773.0,168.8 L773.8,168.9 L774.7,169.0 L775.6,169.1 L776.5,169.3 L777.4,169.4 L778.4,169.6 L779.5,169.7 L780.6,169.9 L781.8,170.1 L783.0,170.2 L784.3,170.4 L785.7,170.5 L787.0,170.6 L788.4,170.7 L789.7,170.7 L791.1,170.8 L792.4,170.9 L793.7,171.1 L795.0,171.2 L796.3,171.4 L797.6,171.6 L798.9,171.9 L800.2,172.2 L801.5,172.5 L802.9,172.9 L804.3,173.3 L805.7,173.8 L807.2,174.3 L808.7,174.8 L810.1,175.3 L811.6,175.9 L813.0,176.4 L814.5,177.0 L815.9,177.6 L817.2,178.1 L818.5,178.8 L819.9,179.5 L821.3,180.2 L822.7,181.0 L824.2,181.8 L825.6,182.6 L827.1,183.4 L828.5,184.2 L830.0,184.9 L831.5,185.6 L832.9,186.1 L834.2,186.6 L835.4,187.0 L836.7,187.5 L837.9,187.9 L839.1,188.2 L840.4,188.5 L841.6,188.8 L842.9,188.9 L844.2,189.0 L845.6,189.0 L847.0,188.9 L848.3,188.6 L849.4,188.3 L850.4,187.9 L851.5,187.4 L852.6,186.8 L853.6,186.0 L854.7,185.0 L855.6,183.9 L856.4,182.7 L857.0,181.4 L857.5,180.0 L858.0,178.6 L858.3,176.9 L858.6,175.1 L858.7,173.1 L858.7,171.0 L858.7,168.8 L858.6,166.6 L858.5,164.3 L858.4,162.1 L858.3,159.9 L858.2,157.8 L858.2,155.8 L858.2,154.1 L858.4,152.6 L858.6,151.1 L858.8,149.6 L859.0,148.2 L859.2,146.8 L859.5,145.6 L859.8,144.4 L860.1,143.3 L860.5,142.2 L860.9,141.2 L861.3,140.2 L861.8,139.1 L862.4,138.1 L863.0,137.1 L863.8,136.1 L864.6,135.1 L865.4,134.1 L866.4,133.1 L867.4,132.1 L868.4,131.1 L869.5,130.1 L870.7,129.1 L871.8,128.2 L873.0,127.3 L874.1,126.5 L875.2,125.7 L876.4,125.0 L877.6,124.3 L878.9,123.6 L880.3,123.0 L881.7,122.3 L883.1,121.7 L884.5,121.1 L886.0,120.5 L887.4,119.9 L888.7,119.4 L890.0,118.9 L891.2,118.4 L892.4,117.9 L893.6,117.5 L894.8,117.1 L895.9,116.8 L897.0,116.4 L898.1,116.1 L899.1,115.8 L900.1,115.5 L900.9,115.3 L901.7,115.1 L902.3,114.9 L897.7,102.7 L897.2,103.0 L896.5,103.3 L895.7,103.6 L894.8,104.0 L893.8,104.4 L892.8,104.9 L891.6,105.4 L890.4,106.0 L889.2,106.5 L887.9,107.1 L886.6,107.7 L885.4,108.3 L884.1,108.9 L882.9,109.5 L881.5,110.1 L880.1,110.8 L878.6,111.5 L877.0,112.2 L875.4,113.0 L873.9,113.8 L872.3,114.6 L870.7,115.5 L869.2,116.5 L867.7,117.5 L866.3,118.5 L865.0,119.6 L863.6,120.7 L862.3,121.8 L861.0,123.0 L859.7,124.2 L858.5,125.5 L857.2,126.8 L856.1,128.1 L855.0,129.5 L853.9,131.0 L853.0,132.5 L852.1,134.0 L851.4,135.4 L850.7,137.0 L850.1,138.5 L849.6,140.0 L849.2,141.6 L848.8,143.1 L848.4,144.7 L848.1,146.3 L847.9,147.9 L847.7,149.6 L847.4,151.4 L847.3,153.5 L847.2,155.7 L847.2,158.0 L847.3,160.3 L847.4,162.6 L847.5,164.9 L847.6,167.1 L847.7,169.1 L847.7,171.0 L847.7,172.7 L847.6,174.0 L847.5,175.1 L847.3,175.9 L847.1,176.6 L846.9,177.0 L846.8,177.3 L846.7,177.5 L846.6,177.5 L846.6,177.6 L846.6,177.6 L846.5,177.6 L846.3,177.7 L845.9,177.9 L845.5,178.0 L845.3,178.0 L845.0,178.1 L844.7,178.0 L844.1,178.0 L843.5,177.9 L842.8,177.8 L842.0,177.6 L841.1,177.3 L840.1,177.0 L839.1,176.7 L838.0,176.3 L836.9,175.9 L835.8,175.5 L834.7,174.9 L833.5,174.4 L832.3,173.7 L830.9,172.9 L829.5,172.2 L828.0,171.4 L826.5,170.5 L824.9,169.7 L823.4,168.9 L821.8,168.1 L820.1,167.4 L818.6,166.8 L817.1,166.2 L815.5,165.6 L813.9,165.0 L812.4,164.4 L810.8,163.8 L809.2,163.3 L807.5,162.8 L805.9,162.3 L804.3,161.9 L802.8,161.5 L801.1,161.1 L799.5,160.8 L797.9,160.6 L796.3,160.4 L794.7,160.2 L793.2,160.1 L791.7,160.1 L790.2,160.0 L788.9,160.0 L787.5,159.9 L786.3,159.9 L785.1,159.8 L784.0,159.8 L782.9,159.7 L781.9,159.6 L780.8,159.5 L779.8,159.4 L778.8,159.3 L777.8,159.1 L776.8,159.0 L775.8,158.9 L774.8,158.9 L773.8,158.8 L772.7,158.7 L771.6,158.7 L770.5,158.7 L769.5,158.7 L768.4,158.7 L767.4,158.8 L766.3,158.9 L765.3,158.9 L764.3,159.0 L763.3,159.1 L762.4,159.2 L761.4,159.3 L760.6,159.4 L759.7,159.6 L758.8,159.7 L757.9,159.9 L757.1,160.1 L756.2,160.3 L755.5,160.6 L754.8,160.8 L754.1,161.0 L753.5,161.2 L753.0,161.4 L752.6,161.5 L752.3,161.6 L752.0,161.7Z"/>
<path fill="#f0692a" d="M749.0,236.5 L756.3,224.4 L761.5,209.7 L764.7,201.3 L774.1,205.5 L772.0,208.6 L767.8,221.2 L762.6,237.5 Z"/>
<line x1="652.3" y1="148.5" x2="650.0" y2="208.6" stroke="#2b2b2b" stroke-width="1.7"/>
<line x1="665.2" y1="155.8" x2="663.5" y2="194.0" stroke="#2b2b2b" stroke-width="1.7"/>
<line x1="676.5" y1="165.9" x2="675.9" y2="176.0" stroke="#2b2b2b" stroke-width="1.7"/>
<line x1="695.1" y1="161.0" x2="694.5" y2="173.0" stroke="#2b2b2b" stroke-width="1.7"/>
<line x1="707.8" y1="160.5" x2="705.5" y2="199.6" stroke="#2b2b2b" stroke-width="1.7"/>
<line x1="721.7" y1="172.0" x2="717.7" y2="203.0" stroke="#2b2b2b" stroke-width="1.7"/>
<line x1="741.5" y1="177.0" x2="741.0" y2="183.0" stroke="#2b2b2b" stroke-width="1.7"/>
<line x1="755.9" y1="167.1" x2="751.1" y2="207.0" stroke="#2b2b2b" stroke-width="1.7"/>
<line x1="770.6" y1="165.0" x2="763.3" y2="220.0" stroke="#2b2b2b" stroke-width="1.7"/>
<line x1="784.3" y1="167.1" x2="781.1" y2="181.0" stroke="#2b2b2b" stroke-width="1.7"/>
<path fill="#f98a3a" d="M624.7,191.3 C626.0,190.3 633.4,191.6 635.4,192.4 C637.4,193.2 636.4,194.8 637.0,196.0 C637.6,197.2 637.8,198.1 638.8,199.7 C639.8,201.3 641.5,203.9 643.3,205.4 C645.1,206.9 648.3,207.6 649.5,208.5 C650.7,209.4 651.5,210.7 650.5,211.0 C649.5,211.3 645.5,210.9 643.5,210.5 C641.5,210.1 640.7,209.8 638.8,208.7 C636.9,207.6 633.9,205.9 632.0,204.2 C630.1,202.5 628.7,200.8 627.5,198.6 C626.3,196.4 623.4,192.3 624.7,191.3 Z"/>
<path fill="#f98a3a" d="M702.6,164.5 L703.2,164.5 L703.8,164.5 L704.6,164.5 L705.4,164.4 L706.2,164.4 L707.1,164.4 L707.9,164.4 L708.8,164.5 L709.6,164.5 L710.4,164.6 L711.1,164.7 L711.7,164.9 L712.3,165.1 L713.0,165.4 L713.8,165.7 L714.5,166.0 L715.2,166.3 L715.8,166.7 L716.5,167.0 L717.2,167.5 L717.8,167.9 L718.4,168.3 L719.1,168.8 L719.6,169.3 L720.2,169.8 L720.8,170.4 L721.4,171.0 L722.0,171.7 L722.6,172.4 L723.2,173.1 L723.8,173.9 L724.4,174.7 L725.0,175.5 L725.6,176.3 L726.1,177.2 L726.7,178.0 L727.2,178.8 L727.7,179.6 L728.2,180.5 L728.7,181.4 L729.2,182.3 L729.7,183.3 L730.1,184.2 L730.6,185.2 L731.1,186.2 L731.6,187.2 L732.0,188.3 L732.5,189.3 L733.0,190.4 L733.4,191.4 L733.9,192.5 L734.4,193.5 L734.8,194.6 L735.3,195.7 L735.7,196.8 L736.1,197.9 L736.6,199.1 L737.0,200.2 L737.4,201.3 L737.8,202.4 L738.2,203.5 L738.6,204.6 L739.0,205.7 L739.4,206.8 L739.8,207.9 L740.2,209.0 L740.5,210.1 L740.9,211.2 L741.2,212.3 L741.6,213.4 L741.9,214.5 L742.2,215.6 L742.5,216.6 L742.8,217.7 L743.1,218.8 L743.4,219.9 L743.6,221.0 L743.9,222.1 L744.2,223.2 L744.4,224.4 L744.7,225.5 L745.1,226.6 L745.4,227.7 L745.8,228.8 L746.2,229.8 L746.7,230.8 L747.2,231.8 L747.7,232.7 L748.2,233.6 L748.7,234.5 L749.2,235.2 L749.6,235.9 L750.0,236.5 L750.4,237.1 L750.7,237.5 L750.9,237.9 L759.1,234.1 L758.9,233.6 L758.7,233.0 L758.5,232.4 L758.3,231.7 L758.0,231.0 L757.7,230.2 L757.5,229.4 L757.2,228.5 L756.9,227.7 L756.7,226.8 L756.4,226.0 L756.2,225.2 L756.0,224.4 L755.7,223.5 L755.5,222.6 L755.2,221.6 L755.0,220.5 L754.7,219.4 L754.4,218.3 L754.1,217.2 L753.8,216.0 L753.5,214.8 L753.1,213.6 L752.8,212.4 L752.4,211.3 L752.1,210.1 L751.7,209.0 L751.3,207.9 L751.0,206.7 L750.6,205.5 L750.2,204.4 L749.8,203.2 L749.4,202.1 L749.0,200.9 L748.6,199.7 L748.2,198.6 L747.7,197.4 L747.3,196.3 L746.9,195.1 L746.4,194.0 L746.0,192.8 L745.5,191.6 L745.0,190.4 L744.5,189.3 L744.0,188.1 L743.5,186.9 L743.0,185.8 L742.5,184.7 L742.0,183.6 L741.4,182.5 L740.9,181.4 L740.4,180.4 L739.8,179.3 L739.2,178.2 L738.6,177.2 L738.0,176.1 L737.4,175.1 L736.7,174.0 L736.0,173.0 L735.3,172.0 L734.6,171.1 L733.9,170.1 L733.1,169.2 L732.4,168.3 L731.6,167.4 L730.8,166.5 L729.9,165.6 L729.1,164.8 L728.2,163.9 L727.3,163.2 L726.3,162.4 L725.4,161.7 L724.4,161.1 L723.4,160.5 L722.4,160.0 L721.4,159.5 L720.4,159.0 L719.3,158.6 L718.3,158.3 L717.3,158.0 L716.3,157.7 L715.3,157.5 L714.3,157.3 L713.3,157.1 L712.2,156.9 L711.0,156.9 L709.9,156.8 L708.8,156.9 L707.7,156.9 L706.7,157.0 L705.7,157.1 L704.8,157.2 L704.0,157.3 L703.3,157.4 L702.8,157.5 L702.4,157.5Z"/>
<path fill="#f98a3a" d="M655.9,153.2 L656.3,153.4 L656.9,153.6 L657.6,153.9 L658.3,154.1 L659.1,154.4 L659.9,154.7 L660.7,155.1 L661.5,155.4 L662.4,155.8 L663.1,156.2 L663.8,156.5 L664.5,156.9 L665.2,157.4 L665.9,157.8 L666.7,158.3 L667.4,158.8 L668.2,159.4 L668.9,159.9 L669.6,160.4 L670.3,161.0 L670.9,161.6 L671.6,162.1 L672.2,162.7 L672.7,163.3 L673.3,163.9 L673.9,164.5 L674.4,165.2 L674.9,165.9 L675.5,166.6 L676.0,167.3 L676.6,168.1 L677.1,168.9 L677.6,169.7 L678.2,170.5 L678.7,171.4 L679.2,172.2 L679.7,173.0 L680.2,173.9 L680.7,174.7 L681.2,175.6 L681.7,176.6 L682.1,177.5 L682.6,178.5 L683.1,179.5 L683.6,180.5 L684.1,181.5 L684.6,182.6 L685.1,183.6 L685.6,184.7 L686.1,185.7 L686.6,186.8 L687.1,187.9 L687.6,188.9 L688.1,190.0 L688.5,191.2 L689.0,192.3 L689.5,193.4 L690.0,194.5 L690.5,195.7 L691.0,196.8 L691.5,198.0 L691.9,199.1 L692.4,200.3 L692.9,201.4 L693.4,202.5 L693.8,203.6 L694.3,204.7 L694.7,205.8 L695.1,206.9 L695.5,208.0 L695.9,209.1 L696.3,210.3 L696.6,211.5 L697.0,212.8 L697.4,214.3 L697.8,215.8 L698.1,217.4 L698.5,219.0 L698.8,220.5 L699.2,221.9 L699.5,223.3 L699.7,224.5 L700.0,225.5 L700.2,226.4 L711.8,223.6 L711.7,222.9 L711.4,221.9 L711.2,220.7 L710.9,219.3 L710.5,217.9 L710.2,216.3 L709.8,214.7 L709.4,213.0 L709.0,211.4 L708.6,209.7 L708.2,208.2 L707.7,206.7 L707.3,205.4 L706.8,204.0 L706.4,202.7 L705.9,201.5 L705.4,200.2 L704.9,199.0 L704.4,197.9 L704.0,196.7 L703.5,195.6 L703.0,194.4 L702.5,193.3 L702.0,192.2 L701.6,191.0 L701.1,189.9 L700.6,188.7 L700.1,187.5 L699.6,186.4 L699.1,185.2 L698.6,184.0 L698.0,182.9 L697.5,181.7 L697.0,180.6 L696.4,179.5 L695.9,178.4 L695.4,177.3 L694.8,176.2 L694.3,175.2 L693.7,174.1 L693.2,173.1 L692.6,172.0 L692.0,170.9 L691.4,169.9 L690.8,168.8 L690.1,167.8 L689.5,166.8 L688.8,165.8 L688.1,164.9 L687.4,164.0 L686.7,163.0 L685.9,162.2 L685.2,161.3 L684.4,160.4 L683.6,159.6 L682.8,158.7 L682.0,157.9 L681.1,157.2 L680.2,156.4 L679.3,155.7 L678.3,155.0 L677.3,154.4 L676.3,153.8 L675.3,153.2 L674.3,152.7 L673.3,152.3 L672.3,151.8 L671.3,151.4 L670.3,151.0 L669.4,150.7 L668.4,150.4 L667.5,150.1 L666.5,149.8 L665.4,149.5 L664.4,149.3 L663.3,149.1 L662.3,148.9 L661.4,148.8 L660.4,148.7 L659.6,148.6 L658.8,148.6 L658.1,148.5 L657.6,148.4 L657.1,148.4Z"/>
<line x1="893.7" y1="98.0" x2="896.1" y2="108.8" stroke="#2b2b2b" stroke-width="1.9"/>
<line x1="879.3" y1="106.4" x2="882.9" y2="116.0" stroke="#2b2b2b" stroke-width="1.9"/>
<line x1="864.9" y1="116.0" x2="869.7" y2="124.4" stroke="#2b2b2b" stroke-width="1.9"/>
<line x1="851.7" y1="126.8" x2="858.9" y2="134.0" stroke="#2b2b2b" stroke-width="1.9"/>
<line x1="843.3" y1="142.5" x2="851.7" y2="146.0" stroke="#2b2b2b" stroke-width="1.9"/>
<line x1="842.0" y1="159.3" x2="850.5" y2="160.5" stroke="#2b2b2b" stroke-width="1.9"/>
<line x1="844.5" y1="172.5" x2="849.3" y2="175.0" stroke="#2b2b2b" stroke-width="1.9"/>
<line x1="836.0" y1="178.5" x2="837.3" y2="181.0" stroke="#2b2b2b" stroke-width="1.9"/>
<line x1="821.7" y1="177.3" x2="825.3" y2="184.5" stroke="#2b2b2b" stroke-width="1.9"/>
<line x1="808.4" y1="172.5" x2="812.0" y2="179.7" stroke="#2b2b2b" stroke-width="1.9"/>
<line x1="798.7" y1="167.6" x2="795.6" y2="178.6" stroke="#2b2b2b" stroke-width="1.9"/>
<path fill="#e8102a" d="M764.7,201.3 C765.5,197 767,194.5 770,191.8 C773,190.3 780,190.3 786.8,190.2 C783,192.5 780.5,195 778.4,198.1 L774.1,205.5 Z"/>
<line x1="784.6" y1="166" x2="776" y2="189" stroke="#2b2b2b" stroke-width="1.6"/>
<line x1="779" y1="181" x2="773.3" y2="195" stroke="#1fa3d8" stroke-width="2"/>
<circle cx="767.8" cy="207.6" r="2.6" fill="#f3c62a" stroke="#f8dc7a" stroke-width="0.8"/>
</svg>

<div class="t b" style="left:120.4px;top:445px;transform:scaleX(0.957)">“Fidelitet”</div>
<div class="t b" style="left:708.6px;top:445px;transform:scaleX(0.913)">“Processivitet”</div>
<div class="t n" style="left:47.9px;top:486px;transform:scaleX(1.003)">DNA-polymeraset får inte</div>
<div class="t n" style="left:63.2px;top:521.5px;transform:scaleX(1.018)">göra fel - rätt nukleotid</div>
<div class="t n" style="left:84.3px;top:557px;transform:scaleX(0.993)">måste inkorporeras</div>
<div class="t n" style="left:623.6px;top:486px;transform:scaleX(1.004)">DNA-polymeraset måste effektivt</div>
<div class="t n" style="left:626.8px;top:521.5px;transform:scaleX(0.979)">kunna replikera långa sträckor av</div>
<div class="t n" style="left:797.7px;top:557px;transform:scaleX(0.929)">DNA</div>
</body></html>
